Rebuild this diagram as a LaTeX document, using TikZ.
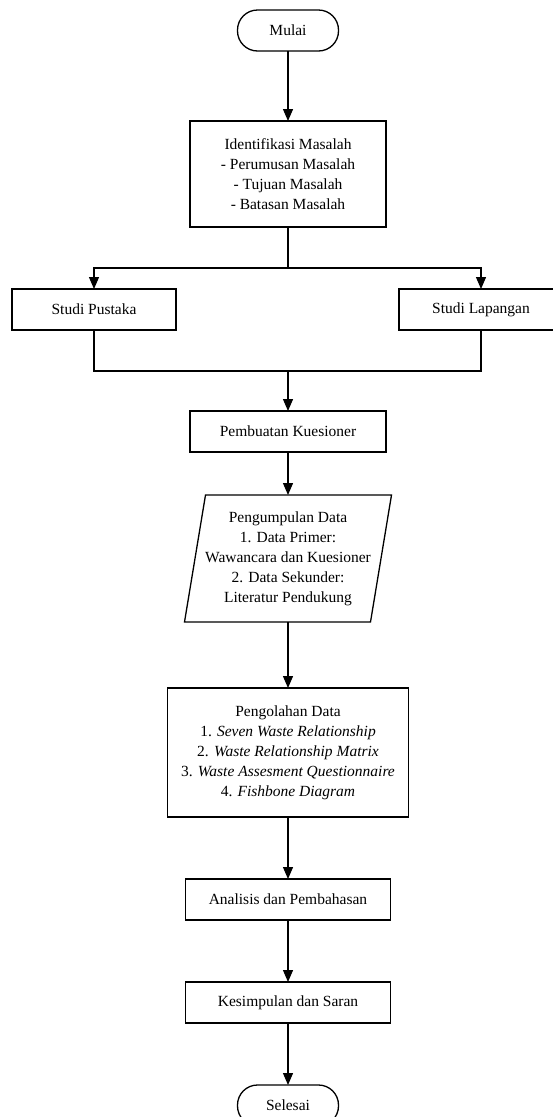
\documentclass[tikz,border=0pt]{standalone}
\usepackage{fontspec}
\setmainfont{Liberation Serif}
\usetikzlibrary{arrows.meta, positioning, calc}

\begin{document}
\begin{tikzpicture}[
			proses/.style={
				draw, line width=1.3pt, align=center,
				inner sep=0pt, outer sep=0pt, minimum height=41pt
			},
			terminal/.style={
				draw, line width=1.3pt, rounded corners=20pt, outer sep=0pt,
				minimum width=101pt, minimum height=41pt, inner sep=0pt
			},
			panah/.style={line width=1.3pt, -{Triangle[length=12pt,width=10pt]}},
			garis/.style={line width=1.3pt},
			font=\fontsize{15.5}{20}\selectfont,
			node distance=62pt
			]
			\useasboundingbox (0,0) rectangle (552pt,-1117pt);
			\node[terminal] (mulai) at (288pt,-30.5pt) {Mulai};
			\node[proses, minimum width=196pt, minimum height=106pt, below=70pt of mulai] (identifikasi) {Identifikasi Masalah\\- Perumusan Masalah\\- Tujuan Masalah\\- Batasan Masalah};
			\node[proses, minimum width=164pt, below=of identifikasi, xshift=-194pt] (pustaka) {Studi Pustaka};
			\node[proses, minimum width=164pt, below=of identifikasi, xshift=193pt] (lapangan) {Studi Lapangan};
			\node[proses, minimum width=196pt, below=184pt of identifikasi] (kuesioner) {Pembuatan Kuesioner};
			\node[align=center, inner sep=0pt, outer sep=0pt, minimum width=207pt, minimum height=127pt, below=43pt of kuesioner] (pengumpulan) {Pengumpulan Data\\1. Data Primer:\\Wawancara dan Kuesioner\\2. Data Sekunder:\\Literatur Pendukung};
			\node[proses, minimum width=241pt, minimum height=129pt, below=66pt of pengumpulan] (pengolahan) {Pengolahan Data\\1. \textit{Seven Waste Relationship}\\2. \textit{Waste Relationship Matrix}\\3. \textit{Waste Assesment Questionnaire}\\4. \textit{Fishbone Diagram}};
			\node[proses, minimum width=205pt, below=of pengolahan] (analisis) {Analisis dan Pembahasan};
			\node[proses, minimum width=205pt, below=of analisis] (kesimpulan) {Kesimpulan dan Saran};
			\node[terminal, below=of kesimpulan] (selesai) {Selesai};

			% jajar genjang
			\draw[garis] ($(pengumpulan.north west)+(21pt,0)$) -- (pengumpulan.north east)
				-- ($(pengumpulan.south east)+(-21pt,0)$) -- (pengumpulan.south west) -- cycle;

			\coordinate (cabang) at ($(identifikasi.south)+(0,-41pt)$);
			\coordinate (gabung) at ($(kuesioner.north)+(0,40pt)$);

			\draw[panah] (mulai) -- (identifikasi);
			\draw[garis] (identifikasi) -- (cabang);
			\draw[panah] (cabang) -| (pustaka);
			\draw[panah] (cabang) -| (lapangan);
			\draw[garis] (pustaka) |- (gabung);
			\draw[garis] (lapangan) |- (gabung);
			\draw[panah] (gabung) -- (kuesioner);
			\draw[panah] (kuesioner) -- (pengumpulan);
			\draw[panah] (pengumpulan) -- (pengolahan);
			\draw[panah] (pengolahan) -- (analisis);
			\draw[panah] (analisis) -- (kesimpulan);
			\draw[panah] (kesimpulan) -- (selesai);
		\end{tikzpicture}
\end{document}
